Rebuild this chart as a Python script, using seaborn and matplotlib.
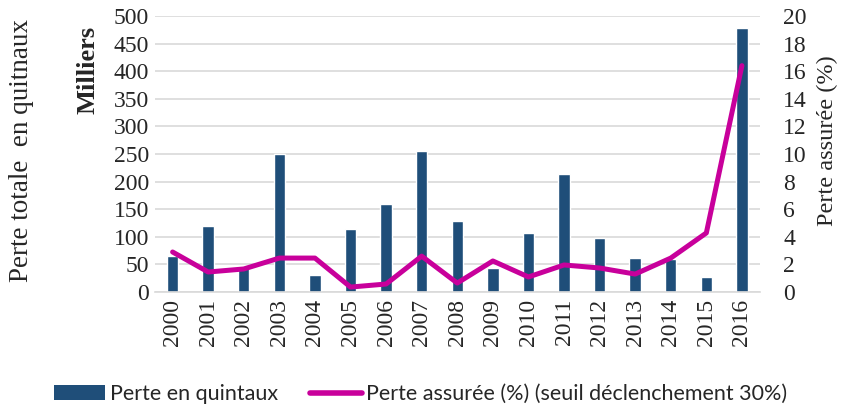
import numpy as np
import pandas as pd
import matplotlib
matplotlib.use("Agg")
import matplotlib.pyplot as plt
import seaborn as sns
from matplotlib.lines import Line2D
from matplotlib.patches import Patch

years = ["2000", "2001", "2002", "2003", "2004", "2005", "2006", "2007", "2008",
         "2009", "2010", "2011", "2012", "2013", "2014", "2015", "2016"]
perte_quintaux = [65, 120, 45, 250, 31, 114, 160, 255, 129,
                  44, 107, 214, 98, 62, 60, 27, 478]
perte_assuree = [2.9, 1.45, 1.67, 2.46, 2.46, 0.36, 0.58, 2.6, 0.65,
                 2.25, 1.09, 1.96, 1.74, 1.3, 2.46, 4.28, 16.4]

bar_color = "#1f4e79"
line_color = "#c8009b"

sns.set_style("white")
plt.rcParams["font.family"] = ["Liberation Serif", "DejaVu Serif"]

df = pd.DataFrame({"annee": years, "perte": perte_quintaux, "assure": perte_assuree})
df["pos"] = np.arange(len(df))

fig = plt.figure(figsize=(8.46, 4.09), dpi=100)
ax = fig.add_axes([0.183, 0.286, 0.715, 0.675])

sns.barplot(data=df, x="annee", y="perte", color=bar_color, width=0.32,
            saturation=1, ax=ax, zorder=2)
ax.set_ylim(0, 500)
ax.set_yticks(range(0, 501, 50))
ax.yaxis.grid(True, color="#d9d9d9", linewidth=1.2, zorder=0)
ax.set_axisbelow(True)
ax.set_xlim(-0.5, len(years) - 0.5)
for s in ["top", "right", "left"]:
    ax.spines[s].set_visible(False)
ax.spines["bottom"].set_color("#d9d9d9")
ax.spines["bottom"].set_linewidth(1.2)
ax.tick_params(axis="y", length=0, labelsize=17, pad=4)
ax.tick_params(axis="x", length=0, labelsize=17, rotation=90, pad=5)
ax.set_xlabel("")
ax.set_ylabel("")

ax2 = ax.twinx()
sns.lineplot(data=df, x="pos", y="assure", color=line_color, linewidth=3.6,
             ax=ax2, zorder=3)
ax2.set_ylim(0, 20)
ax2.set_yticks(range(0, 21, 2))
ax2.set_xlim(-0.5, len(years) - 0.5)
for s in ["top", "right", "left", "bottom"]:
    ax2.spines[s].set_visible(False)
ax2.tick_params(axis="y", length=0, labelsize=17, pad=17)
ax2.set_xlabel("")
ax2.set_ylabel("Perte assurée (%)", fontsize=17.5, labelpad=6)
ax2.yaxis.set_label_coords(1.095, 0.55)

# left axis titles
fig.text(0.026, 0.633, "Perte totale  en quitnaux", rotation=90, fontsize=19.5,
         ha="center", va="center")
fig.text(0.104, 0.829, "Milliers", rotation=90, fontsize=19, fontweight="bold",
         ha="center", va="center")

handles = [Patch(facecolor=bar_color, edgecolor="none"),
           Line2D([0], [0], color=line_color, linewidth=4, solid_capstyle="round")]
fig.legend(handles, ["Perte en quintaux", "Perte assurée (%) (seuil déclenchement 30%)"],
           loc="center", bbox_to_anchor=(0.497, 0.036), ncol=2, frameon=False,
           prop={"family": "Lato", "size": 15.5}, handlelength=2.4,
           handletextpad=0.2, columnspacing=1.5)

fig.savefig("out.png", dpi=100)
